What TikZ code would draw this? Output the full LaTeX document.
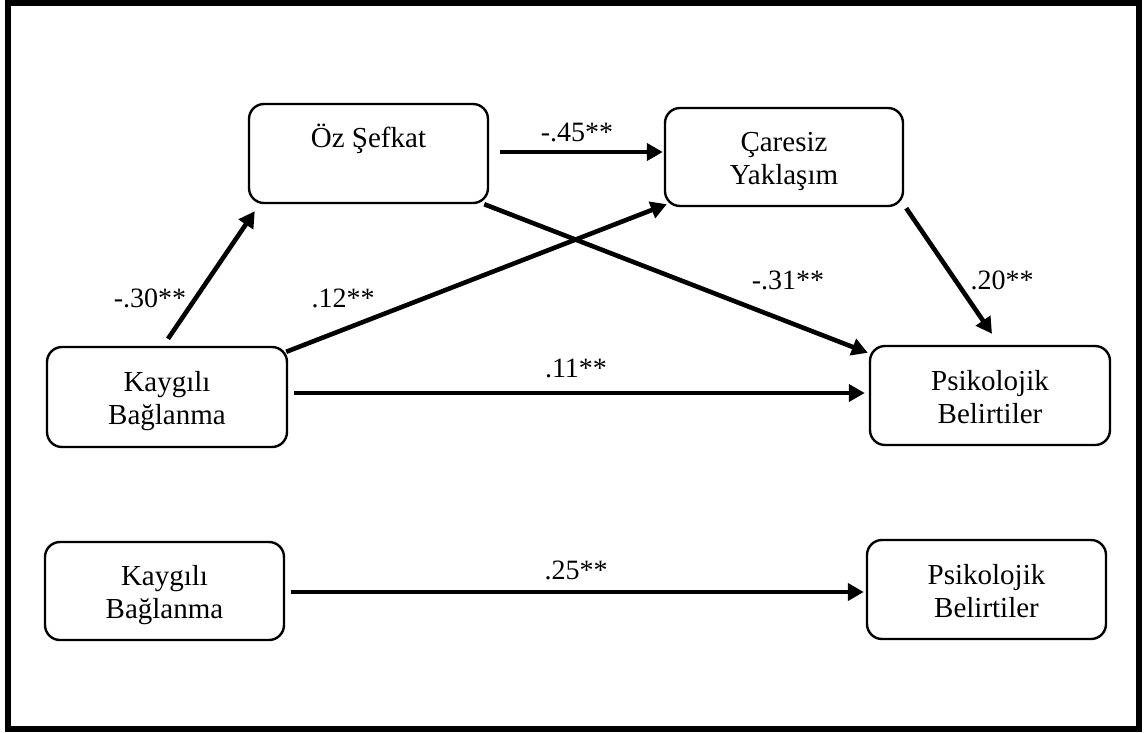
\documentclass[tikz,border=0pt]{standalone}
\usepackage{fontspec}
\setmainfont{Liberation Serif}
\usetikzlibrary{calc,arrows.meta}
\begin{document}
\begin{tikzpicture}[x=1pt,y=-1pt,
  box/.style={draw,line width=2.4pt,rounded corners=15pt,inner sep=0pt},
  txt/.style={align=center,inner sep=0pt,font=\fontsize{29}{33}\selectfont},
  arr/.style={line width=4.6pt,-{Triangle[length=16pt,width=17pt]}},
  lab/.style={font=\fontsize{28}{33}\selectfont,inner sep=0pt}]
\useasboundingbox (0,0) rectangle (1144,732);
\draw[line width=6pt] (8,3) rectangle (1139,729);
% boxes
\node[box,minimum width=239pt,minimum height=99pt] (oz) at (368.5,153.5) {};
\node[box,minimum width=238pt,minimum height=98pt] (cy) at (784,157) {};
\node[box,minimum width=240pt,minimum height=100pt] (kb1) at (167,397) {};
\node[box,minimum width=240pt,minimum height=99pt] (pb1) at (990,395.5) {};
\node[box,minimum width=239pt,minimum height=98pt] (kb2) at (164.5,591) {};
\node[box,minimum width=239pt,minimum height=99pt] (pb2) at (986.5,589.5) {};
% texts
\node[txt] (tz) at ($(oz.center)+(0,-13)$) {\strut Öz Şefkat};
\node[txt] (tcy) at ($(cy.center)+(0,4.4)$) {\strut Çaresiz\\\strut Yaklaşım};
\node[txt] (tkb1) at ($(kb1.center)+(0,4.4)$) {\strut Kaygılı\\\strut Bağlanma};
\node[txt] (tpb1) at ($(pb1.center)+(0,4.4)$) {\strut Psikolojik\\\strut Belirtiler};
\node[txt] (tkb2) at ($(kb2.center)+(0,4.4)$) {\strut Kaygılı\\\strut Bağlanma};
\node[txt] (tpb2) at ($(pb2.center)+(0,4.4)$) {\strut Psikolojik\\\strut Belirtiler};
% arrows
\draw[arr] ($(kb1.north)+(1,-7)$) -- ($(oz.south west)+(7,7)$);
\draw[arr] ($(oz.east)+(11,-1.5)$) -- ($(cy.west)+(-1,-5)$);
\draw[arr] ($(kb1.north east)+(-2,6)$) -- ($(cy.south west)+(3,-3)$);
\draw[arr] ($(oz.south east)+(-5,0)$) -- ($(pb1.north west)+(-1,8)$);
\draw[arr] ($(cy.south east)+(2,1)$) -- ($(pb1.north)+(2,-11)$);
\draw[arr] ($(kb1.east)+(6,-4)$) -- ($(pb1.west)+(-4,-2.5)$);
\draw[arr] ($(kb2.east)+(6,1)$) -- ($(pb2.west)+(-2,2.5)$);
% labels
\node[lab] (l30) at (150,298) {-.30**};
\node[lab] (l12) at (343,298) {.12**};
\node[lab] (l45) at (577,132) {-.45**};
\node[lab] (l31) at (788,280) {-.31**};
\node[lab] (l20) at (1002,280) {.20**};
\node[lab] (l11) at (576,368) {.11**};
\node[lab] (l25) at (576,570) {.25**};
\end{tikzpicture}
\end{document}
